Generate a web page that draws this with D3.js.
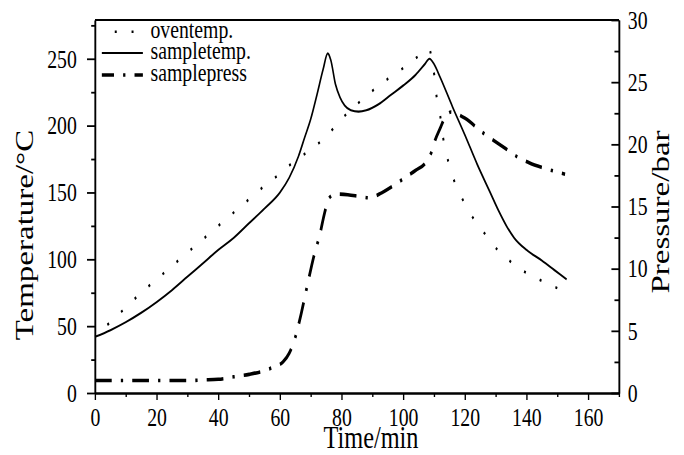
<!DOCTYPE html>
<html>
<head>
<meta charset="utf-8">
<script src="https://cdn.jsdelivr.net/npm/d3@7"></script>
<style>
body { margin: 0; background: #fff; }
text { font-family: "Liberation Serif", "Times New Roman", serif; fill: #000; }
</style>
</head>
<body>
<svg id="chart" width="684" height="455"></svg>
<script>
// data
var ovenTime = [0, 5, 10, 15, 20, 25, 30, 35, 40, 45, 50, 55, 60, 65, 70, 75, 80, 85, 90, 95, 100, 105, 108.5,
    109.5, 110.3, 110.8, 111.7, 113, 114, 115.2, 116.8, 119, 121.5, 125, 128.5, 133, 138, 142, 147, 152];
var ovenTemp = [43, 53, 64, 75, 85, 95, 105, 115, 125, 135, 145, 155, 164, 174, 182, 192, 205, 216, 226, 235, 243, 252, 257,
    245, 234, 222, 212, 190, 179, 168, 157, 146, 135, 124, 112.5, 102, 92.5, 87.5, 81.5, 76.5];

var sampleTime = [0, 5, 10, 15, 20, 25, 30, 35, 40, 45, 50, 55, 60, 63, 66, 68, 70, 72, 74, 75.5, 76.5, 78, 79.5, 81, 83,
    85.5, 88, 92, 96, 100, 104, 107, 108.5, 110, 112, 116, 120, 124, 128, 131, 133.6, 136, 140, 145, 149, 153];
var sampleTemp = [42, 47, 53, 60, 68, 77, 87, 97, 107, 116, 127, 138, 150, 161, 177, 191, 205, 223, 242, 254, 249, 231, 221, 215, 211.5,
    210.5, 211.5, 216, 223, 230, 238, 246, 250, 246, 236, 214, 193, 171, 151, 136, 124.5, 116, 107, 99, 92, 85];

var pressTime = [0, 10, 20, 30, 35, 40, 45, 50, 55, 58, 61, 63, 65, 67, 69, 71, 73, 74.5, 76, 78, 82, 86, 89, 93, 97, 101,
    104, 107.5, 109.2, 110.3, 112, 113.6, 115.5, 117, 120, 126, 133, 137, 141, 145.5, 152.5];
var pressure = [1.0, 1.0, 1.0, 1.0, 1.05, 1.1, 1.3, 1.5, 1.8, 2.1, 2.5, 3.2, 4.5, 6.5, 8.8, 11.0, 12.8, 14.5, 15.7, 16.0, 15.95, 15.8, 15.7, 16.1, 16.7, 17.4,
    17.9, 18.6, 19.4, 20.3, 21.3, 22.2, 22.6, 22.5, 22.1, 20.9, 19.7, 19.0, 18.5, 18.1, 17.6];

var xTicks = [0, 20, 40, 60, 80, 100, 120, 140, 160];
var xMinor = [10, 30, 50, 70, 90, 110, 130, 150, 170];
var tTicks = [0, 50, 100, 150, 200, 250];
var tMinor = [25, 75, 125, 175, 225, 275];
var pTicks = [0, 5, 10, 15, 20, 25, 30];
var pMinor = [2.5, 7.5, 12.5, 17.5, 22.5, 27.5];

var seriesNames = ["oventemp.", "sampletemp.", "samplepress"];

// the original figure is squeezed sideways, draw wide and squeeze with the viewBox
var squeeze = 0.76;
var vw = 684 / squeeze, vh = 455;

var svg = d3.select("#chart")
    .attr("viewBox", "0 0 " + vw + " " + vh)
    .attr("preserveAspectRatio", "none");

var margin = {left: 125, right: vw - 814.5, top: 20, bottom: 62};
var width = vw - margin.left - margin.right,
    height = vh - margin.top - margin.bottom;

var g = svg.append("g")
    .attr("transform", "translate(" + margin.left + "," + margin.top + ")");

var xScale = d3.scaleLinear().domain([0, 170]).range([0, width]);
var tScale = d3.scaleLinear().domain([0, 279]).range([height, 0]);
var pScale = d3.scaleLinear().domain([0, 30]).range([height, 0]);

// axes
var xAxis = d3.axisBottom(xScale).tickValues(xTicks).tickSize(7).tickSizeOuter(0).tickPadding(8);
var xAxisMinor = d3.axisBottom(xScale).tickValues(xMinor).tickSize(4).tickSizeOuter(0).tickFormat("");
var tAxis = d3.axisLeft(tScale).tickValues(tTicks).tickSize(10.5).tickSizeOuter(0).tickPadding(13.5);
var tAxisMinor = d3.axisLeft(tScale).tickValues(tMinor).tickSize(5).tickSizeOuter(0).tickFormat("");
var pAxis = d3.axisRight(pScale).tickValues(pTicks).tickSizeInner(-10).tickSizeOuter(0).tickPadding(11.5);
var pAxisMinor = d3.axisRight(pScale).tickValues(pMinor).tickSizeInner(-6).tickSizeOuter(0).tickFormat("");

function styleAxis(sel) {
    sel.selectAll("path").attr("stroke", "#000").attr("stroke-width", 2);
    sel.selectAll("line").attr("stroke", "#000").attr("stroke-width", 1.8);
    sel.selectAll("text").style("font-size", "26px").attr("fill", "#000");
}

g.append("g").attr("transform", "translate(0," + height + ")").call(xAxis).call(styleAxis);
g.append("g").attr("transform", "translate(0," + height + ")").call(xAxisMinor).call(styleAxis);
g.append("g").call(tAxis).call(styleAxis);
g.append("g").call(tAxisMinor).call(styleAxis);
g.append("g").attr("transform", "translate(" + width + ",0)").call(pAxis).call(styleAxis);
g.append("g").attr("transform", "translate(" + width + ",0)").call(pAxisMinor).call(styleAxis);

// top frame line
g.append("line")
    .attr("x1", 0).attr("x2", width).attr("y1", 0).attr("y2", 0)
    .attr("stroke", "#000").attr("stroke-width", 2);

// lines
var ovenData = ovenTime.map(function (t, i) { return {x: t, y: ovenTemp[i]}; });
var sampleData = sampleTime.map(function (t, i) { return {x: t, y: sampleTemp[i]}; });
var pressData = pressTime.map(function (t, i) { return {x: t, y: pressure[i]}; });

var tLine = d3.line()
    .x(function (d) { return xScale(d.x); })
    .y(function (d) { return tScale(d.y); })
    .curve(d3.curveMonotoneX);
var pLine = d3.line()
    .x(function (d) { return xScale(d.x); })
    .y(function (d) { return pScale(d.y); })
    .curve(d3.curveMonotoneX);

var styles = [
    {width: 2.6, dash: "2.6,19.5"},
    {width: 2.1, dash: null},
    {width: 3.6, dash: "22,12,3,12"}
];

g.append("path").datum(ovenData)
    .attr("d", tLine)
    .attr("fill", "none").attr("stroke", "#000")
    .attr("stroke-width", styles[0].width)
    .attr("stroke-dasharray", styles[0].dash)
    .attr("stroke-dashoffset", 2.6);

g.append("path").datum(sampleData)
    .attr("d", tLine)
    .attr("fill", "none").attr("stroke", "#000")
    .attr("stroke-width", styles[1].width);

g.append("path").datum(pressData)
    .attr("d", pLine)
    .attr("fill", "none").attr("stroke", "#000")
    .attr("stroke-width", styles[2].width)
    .attr("stroke-dasharray", styles[2].dash);

// legend
var legend = svg.append("g").attr("transform", "translate(134,0)");
var rowY = [31.7, 53, 75];
var legendOffset = [-17, 0, 6];
seriesNames.forEach(function (name, i) {
    legend.append("line")
        .attr("x1", 0).attr("x2", 54)
        .attr("y1", rowY[i]).attr("y2", rowY[i])
        .attr("stroke", "#000")
        .attr("stroke-width", styles[i].width)
        .attr("stroke-dasharray", styles[i].dash)
        .attr("stroke-dashoffset", legendOffset[i]);
    legend.append("text")
        .attr("x", 64).attr("y", rowY[i] + 6.5)
        .style("font-size", "26px")
        .text(name);
});

// axis titles
svg.append("text")
    .attr("x", 371 / squeeze).attr("y", 448)
    .attr("text-anchor", "middle")
    .style("font-size", "32px")
    .text("Time/min");

svg.append("text")
    .attr("transform", "translate(" + (33 / squeeze) + ",235) rotate(-90)")
    .attr("text-anchor", "middle")
    .style("font-size", "33px")
    .text("Temperature/°C");

svg.append("text")
    .attr("transform", "translate(" + (669 / squeeze) + ",212) rotate(-90)")
    .attr("text-anchor", "middle")
    .style("font-size", "33px")
    .text("Pressure/bar");
</script>
</body>
</html>
